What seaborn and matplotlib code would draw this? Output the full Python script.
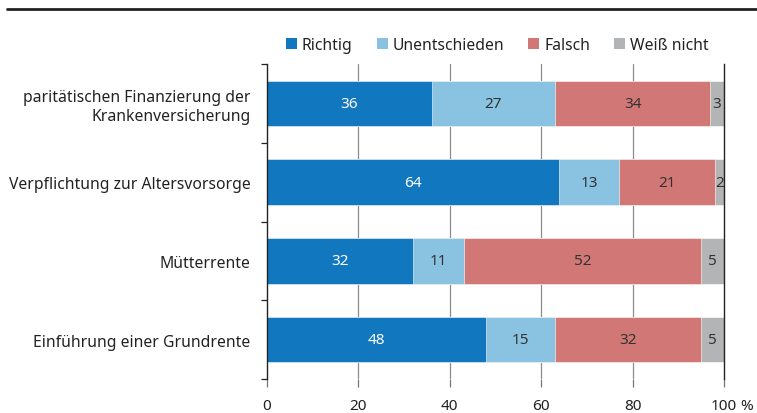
import matplotlib
matplotlib.use("Agg")
import matplotlib.pyplot as plt
from matplotlib.lines import Line2D
from matplotlib.patches import Patch
from matplotlib.ticker import FixedLocator
import numpy as np
import pandas as pd
import seaborn as sns

# data
categories = [
    "paritätischen Finanzierung der\nKrankenversicherung",
    "Verpflichtung zur Altersvorsorge",
    "Mütterrente",
    "Einführung einer Grundrente",
]
richtig = [36, 64, 32, 48]
unentschieden = [27, 13, 11, 15]
falsch = [34, 21, 52, 32]
weiss_nicht = [3, 2, 5, 5]
series_names = ["Richtig", "Unentschieden", "Falsch", "Weiß nicht"]
colors = ["#1177be", "#8ac2e1", "#d17876", "#b2b4b5"]
text_colors = ["white", "#333333", "#333333", "#333333"]
x_ticks = [0, 20, 40, 60, 80, 100]

sns.set_theme(style="white")
plt.rcParams["font.family"] = ["Noto Sans", "DejaVu Sans"]
plt.rcParams["font.size"] = 11

fig = plt.figure(figsize=(7.57, 4.14), dpi=100)
ax = fig.add_axes([0.3527, 0.0821, 0.6037, 0.7609])

values = np.array([richtig, unentschieden, falsch, weiss_nicht], dtype=float)
cum = values.cumsum(axis=0)

# draw cumulative layers from the top so each segment shows its own slice
for i in range(len(series_names) - 1, -1, -1):
    df = pd.DataFrame({"cat": categories, "val": cum[i]})
    sns.barplot(data=df, x="val", y="cat", orient="h", color=colors[i],
                width=0.58, saturation=1, ax=ax, zorder=2,
                edgecolor="white", linewidth=0.4)

# segment labels
for i in range(len(series_names)):
    for j in range(len(categories)):
        v = values[i, j]
        start = cum[i, j] - v
        ax.text(start + v / 2, j, f"{int(v)}", ha="center", va="center",
                fontsize=11, color=text_colors[i], zorder=4)

ax.set_xlim(0, 100)
ax.set_ylim(3.5, -0.5)
ax.set_xlabel("")
ax.set_ylabel("")

# axes styling
for side in ["top", "bottom"]:
    ax.spines[side].set_visible(False)
ax.spines["left"].set_color("#222222")
ax.spines["right"].set_color("#222222")
ax.spines["left"].set_linewidth(1.0)
ax.spines["right"].set_linewidth(1.0)

ax.set_xticks(x_ticks)
ax.set_xticklabels([str(t) for t in x_ticks])
ax.tick_params(axis="x", direction="out", length=5.8, width=0.9, color="#777777",
               pad=8, labelsize=11, labelcolor="#222222", bottom=True)
ax.annotate("%", xy=(100, 0), xycoords=("data", "axes fraction"),
            xytext=(12, -13.8), textcoords="offset points", ha="left", va="top",
            fontsize=11, color="#222222")

ax.grid(False)
for t in x_ticks[1:-1]:
    ax.axvline(t, color="#8c8c8c", linewidth=0.9, zorder=1)

ax.yaxis.set_minor_locator(FixedLocator([-0.5, 0.5, 1.5, 2.5, 3.5]))
ax.tick_params(axis="y", which="major", length=0, pad=12, labelsize=11.3,
               labelcolor="#222222")
ax.tick_params(axis="y", which="minor", direction="out", length=4.3, width=0.9,
               color="#222222", left=True)
for lbl in ax.get_yticklabels():
    lbl.set_horizontalalignment("right")
    lbl.set_multialignment("right")

# legend
handles = [Patch(facecolor=c, edgecolor="none") for c in colors]
fig.legend(handles, series_names, loc="center", bbox_to_anchor=(0.657, 0.889),
           ncol=4, frameon=False, fontsize=11.3, handlelength=0.7,
           handleheight=0.7, handletextpad=0.3, columnspacing=1.55,
           labelcolor="#222222")

# top rule
fig.add_artist(Line2D([0.009, 1.0], [0.975, 0.975], transform=fig.transFigure,
                      color="#222222", linewidth=2))

fig.savefig("out.png", dpi=100)
